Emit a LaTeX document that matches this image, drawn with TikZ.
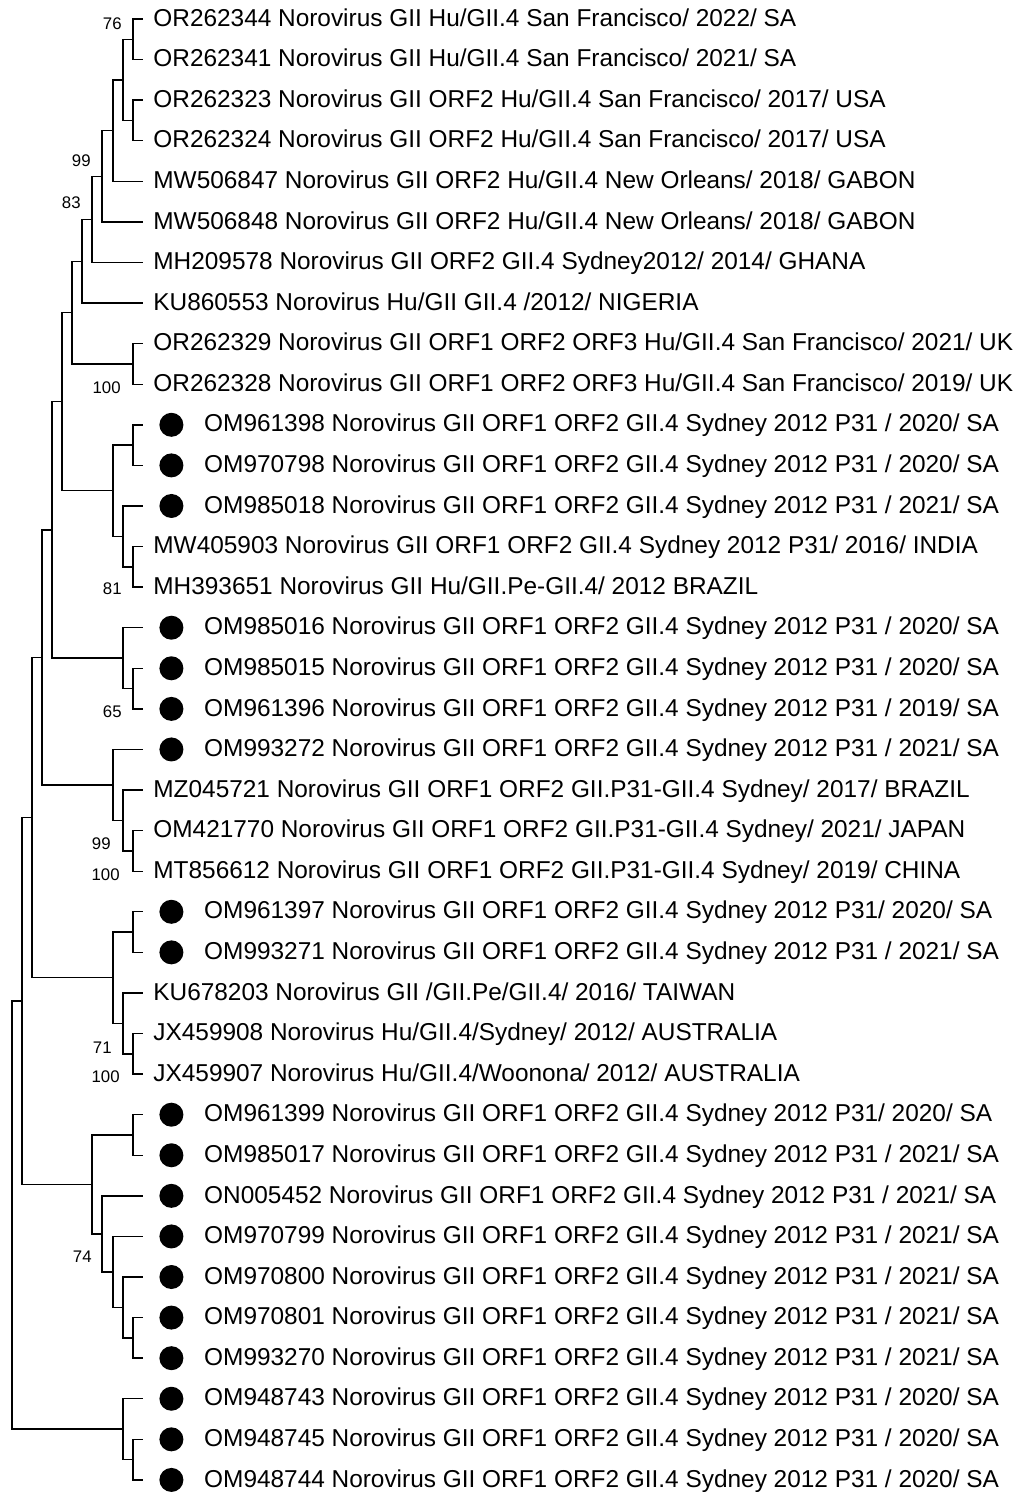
\documentclass[tikz,border=0pt]{standalone}
\usepackage{fontspec}
\setmainfont{Liberation Sans}
\usepackage{tikz}
\usetikzlibrary{positioning}

\begin{document}
\begin{tikzpicture}[x=0.5pt,y=-20.29pt,
  lab/.style={anchor=west,inner sep=0pt,text height=0.716em,text depth=0pt,font=\fontsize{12.2}{14}\selectfont},
  boot/.style={anchor=east,inner sep=0pt,text height=0.716em,text depth=0pt,font=\fontsize{8.4}{10}\selectfont},
  dot/.style={circle,fill=black,minimum size=12pt,inner sep=0pt},
  br/.style={line width=0.7pt}]
\useasboundingbox (0,0.5318) rectangle (1022,37.298);
% leaf tips
\coordinate (l1) at (143,1);   \coordinate (l2) at (143,2);   \coordinate (l3) at (143,3);
\coordinate (l4) at (143,4);   \coordinate (l5) at (143,5);   \coordinate (l6) at (143,6);
\coordinate (l7) at (143,7);   \coordinate (l8) at (143,8);   \coordinate (l9) at (143,9);
\coordinate (l10) at (143,10); \coordinate (l11) at (143,11); \coordinate (l12) at (143,12);
\coordinate (l13) at (143,13); \coordinate (l14) at (143,14); \coordinate (l15) at (143,15);
\coordinate (l16) at (143,16); \coordinate (l17) at (143,17); \coordinate (l18) at (143,18);
\coordinate (l19) at (143,19); \coordinate (l20) at (143,20); \coordinate (l21) at (143,21);
\coordinate (l22) at (143,22); \coordinate (l23) at (143,23); \coordinate (l24) at (143,24);
\coordinate (l25) at (143,25); \coordinate (l26) at (143,26); \coordinate (l27) at (143,27);
\coordinate (l28) at (143,28); \coordinate (l29) at (143,29); \coordinate (l30) at (143,30);
\coordinate (l31) at (143,31); \coordinate (l32) at (143,32); \coordinate (l33) at (143,33);
\coordinate (l34) at (143,34); \coordinate (l35) at (143,35); \coordinate (l36) at (143,36);
\coordinate (l37) at (143,37);
% internal nodes
\coordinate (sf) at (133,1.5);       \coordinate (usa) at (133,3.5);
\coordinate (sfusa) at (123,2.5);     \coordinate (nola) at (113,3.75);
\coordinate (gab) at (102,4.875);     \coordinate (gha) at (92,5.9375);
\coordinate (nig) at (82,6.96875);    \coordinate (uk) at (133,9.5);
\coordinate (ukall) at (72,8.234);    \coordinate (saA) at (133,11.5);
\coordinate (bra) at (133,14.5);      \coordinate (ind) at (123,13.75);
\coordinate (grpA) at (113,12.625);   \coordinate (topcl) at (62,10.43);
\coordinate (saB) at (133,17.5);      \coordinate (grpB) at (123,16.75);
\coordinate (upper) at (52,13.59);    \coordinate (chn) at (133,21.5);
\coordinate (p31) at (123,20.75);     \coordinate (grpC) at (113,19.875);
\coordinate (mid) at (42,16.73);      \coordinate (saD) at (133,23.5);
\coordinate (aus) at (133,26.5);      \coordinate (twn) at (123,25.75);
\coordinate (grpD) at (113,24.625);   \coordinate (main) at (32,20.68);
\coordinate (saE) at (133,28.5);      \coordinate (saF) at (133,33.5);
\coordinate (saG) at (123,32.75);     \coordinate (saH) at (113,31.875);
\coordinate (saI) at (102,30.9375);   \coordinate (grpE) at (92,29.72);
\coordinate (big) at (22,25.2);       \coordinate (saJ) at (133,36.5);
\coordinate (grpF) at (123,35.75);    \coordinate (root) at (12,30.475);
% branches
\draw[br] (sf) |- (l1) (sf) |- (l2);
\draw[br] (usa) |- (l3) (usa) |- (l4);
\draw[br] (sfusa) |- (sf) (sfusa) |- (usa);
\draw[br] (nola) |- (sfusa) (nola) |- (l5);
\draw[br] (gab) |- (nola) (gab) |- (l6);
\draw[br] (gha) |- (gab) (gha) |- (l7);
\draw[br] (nig) |- (gha) (nig) |- (l8);
\draw[br] (uk) |- (l9) (uk) |- (l10);
\draw[br] (ukall) |- (nig) (ukall) |- (uk);
\draw[br] (saA) |- (l11) (saA) |- (l12);
\draw[br] (bra) |- (l14) (bra) |- (l15);
\draw[br] (ind) |- (l13) (ind) |- (bra);
\draw[br] (grpA) |- (saA) (grpA) |- (ind);
\draw[br] (topcl) |- (ukall) (topcl) |- (grpA);
\draw[br] (saB) |- (l17) (saB) |- (l18);
\draw[br] (grpB) |- (l16) (grpB) |- (saB);
\draw[br] (upper) |- (topcl) (upper) |- (grpB);
\draw[br] (chn) |- (l21) (chn) |- (l22);
\draw[br] (p31) |- (l20) (p31) |- (chn);
\draw[br] (grpC) |- (l19) (grpC) |- (p31);
\draw[br] (mid) |- (upper) (mid) |- (grpC);
\draw[br] (saD) |- (l23) (saD) |- (l24);
\draw[br] (aus) |- (l26) (aus) |- (l27);
\draw[br] (twn) |- (l25) (twn) |- (aus);
\draw[br] (grpD) |- (saD) (grpD) |- (twn);
\draw[br] (main) |- (mid) (main) |- (grpD);
\draw[br] (saE) |- (l28) (saE) |- (l29);
\draw[br] (saF) |- (l33) (saF) |- (l34);
\draw[br] (saG) |- (l32) (saG) |- (saF);
\draw[br] (saH) |- (l31) (saH) |- (saG);
\draw[br] (saI) |- (l30) (saI) |- (saH);
\draw[br] (grpE) |- (saE) (grpE) |- (saI);
\draw[br] (big) |- (main) (big) |- (grpE);
\draw[br] (saJ) |- (l36) (saJ) |- (l37);
\draw[br] (grpF) |- (l35) (grpF) |- (saJ);
\draw[br] (root) |- (big) (root) |- (grpF);
% bootstrap values
\node[boot] (b76) at (122,1.086) {76};
\node[boot] (b99a) at (91,4.45) {99};
\node[boot] (b83) at (81,5.485) {83};
\node[boot] (b100a) at (121,10.044) {100};
\node[boot] (b81) at (122,14.997) {81};
\node[boot] (b65) at (122,18.03) {65};
\node[boot] (b99b) at (111,21.28) {99};
\node[boot] (b100b) at (120,22.045) {100};
\node[boot] (b71) at (112,26.31) {71};
\node[boot] (b100c) at (120,27.02) {100};
\node[boot] (b74) at (92,31.46) {74};
% markers for the study sequences
\node[dot,right=8pt of l11] (d11) {}; \node[dot,right=8pt of l12] (d12) {};
\node[dot,right=8pt of l13] (d13) {}; \node[dot,right=8pt of l16] (d16) {};
\node[dot,right=8pt of l17] (d17) {}; \node[dot,right=8pt of l18] (d18) {};
\node[dot,right=8pt of l19] (d19) {}; \node[dot,right=8pt of l23] (d23) {};
\node[dot,right=8pt of l24] (d24) {}; \node[dot,right=8pt of l28] (d28) {};
\node[dot,right=8pt of l29] (d29) {}; \node[dot,right=8pt of l30] (d30) {};
\node[dot,right=8pt of l31] (d31) {}; \node[dot,right=8pt of l32] (d32) {};
\node[dot,right=8pt of l33] (d33) {}; \node[dot,right=8pt of l34] (d34) {};
\node[dot,right=8pt of l35] (d35) {}; \node[dot,right=8pt of l36] (d36) {};
\node[dot,right=8pt of l37] (d37) {};
% taxon labels
\node[lab,right=5pt of l1] (t1) {OR262344 Norovirus GII Hu/GII.4 San Francisco/ 2022/ SA};
\node[lab,right=5pt of l2] (t2) {OR262341 Norovirus GII Hu/GII.4 San Francisco/ 2021/ SA};
\node[lab,right=5pt of l3] (t3) {OR262323 Norovirus GII ORF2 Hu/GII.4 San Francisco/ 2017/ USA};
\node[lab,right=5pt of l4] (t4) {OR262324 Norovirus GII ORF2 Hu/GII.4 San Francisco/ 2017/ USA};
\node[lab,right=5pt of l5] (t5) {MW506847 Norovirus GII ORF2 Hu/GII.4 New Orleans/ 2018/ GABON};
\node[lab,right=5pt of l6] (t6) {MW506848 Norovirus GII ORF2 Hu/GII.4 New Orleans/ 2018/ GABON};
\node[lab,right=5pt of l7] (t7) {MH209578 Norovirus GII ORF2 GII.4 Sydney2012/ 2014/ GHANA};
\node[lab,right=5pt of l8] (t8) {KU860553 Norovirus Hu/GII GII.4 /2012/ NIGERIA};
\node[lab,right=5pt of l9] (t9) {OR262329 Norovirus GII ORF1 ORF2 ORF3 Hu/GII.4 San Francisco/ 2021/ UK};
\node[lab,right=5pt of l10] (t10) {OR262328 Norovirus GII ORF1 ORF2 ORF3 Hu/GII.4 San Francisco/ 2019/ UK};
\node[lab,right=10pt of d11] (t11) {OM961398 Norovirus GII ORF1 ORF2 GII.4 Sydney 2012 P31 / 2020/ SA};
\node[lab,right=10pt of d12] (t12) {OM970798 Norovirus GII ORF1 ORF2 GII.4 Sydney 2012 P31 / 2020/ SA};
\node[lab,right=10pt of d13] (t13) {OM985018 Norovirus GII ORF1 ORF2 GII.4 Sydney 2012 P31 / 2021/ SA};
\node[lab,right=5pt of l14] (t14) {MW405903 Norovirus GII ORF1 ORF2 GII.4 Sydney 2012 P31/ 2016/ INDIA};
\node[lab,right=5pt of l15] (t15) {MH393651 Norovirus GII Hu/GII.Pe-GII.4/ 2012 BRAZIL};
\node[lab,right=10pt of d16] (t16) {OM985016 Norovirus GII ORF1 ORF2 GII.4 Sydney 2012 P31 / 2020/ SA};
\node[lab,right=10pt of d17] (t17) {OM985015 Norovirus GII ORF1 ORF2 GII.4 Sydney 2012 P31 / 2020/ SA};
\node[lab,right=10pt of d18] (t18) {OM961396 Norovirus GII ORF1 ORF2 GII.4 Sydney 2012 P31 / 2019/ SA};
\node[lab,right=10pt of d19] (t19) {OM993272 Norovirus GII ORF1 ORF2 GII.4 Sydney 2012 P31 / 2021/ SA};
\node[lab,right=5pt of l20] (t20) {MZ045721 Norovirus GII ORF1 ORF2 GII.P31-GII.4 Sydney/ 2017/ BRAZIL};
\node[lab,right=5pt of l21] (t21) {OM421770 Norovirus GII ORF1 ORF2 GII.P31-GII.4 Sydney/ 2021/ JAPAN};
\node[lab,right=5pt of l22] (t22) {MT856612 Norovirus GII ORF1 ORF2 GII.P31-GII.4 Sydney/ 2019/ CHINA};
\node[lab,right=10pt of d23] (t23) {OM961397 Norovirus GII ORF1 ORF2 GII.4 Sydney 2012 P31/ 2020/ SA};
\node[lab,right=10pt of d24] (t24) {OM993271 Norovirus GII ORF1 ORF2 GII.4 Sydney 2012 P31 / 2021/ SA};
\node[lab,right=5pt of l25] (t25) {KU678203 Norovirus GII /GII.Pe/GII.4/ 2016/ TAIWAN};
\node[lab,right=5pt of l26] (t26) {JX459908 Norovirus Hu/GII.4/Sydney/ 2012/ AUSTRALIA};
\node[lab,right=5pt of l27] (t27) {JX459907 Norovirus Hu/GII.4/Woonona/ 2012/ AUSTRALIA};
\node[lab,right=10pt of d28] (t28) {OM961399 Norovirus GII ORF1 ORF2 GII.4 Sydney 2012 P31/ 2020/ SA};
\node[lab,right=10pt of d29] (t29) {OM985017 Norovirus GII ORF1 ORF2 GII.4 Sydney 2012 P31 / 2021/ SA};
\node[lab,right=10pt of d30] (t30) {ON005452 Norovirus GII ORF1 ORF2 GII.4 Sydney 2012 P31 / 2021/ SA};
\node[lab,right=10pt of d31] (t31) {OM970799 Norovirus GII ORF1 ORF2 GII.4 Sydney 2012 P31 / 2021/ SA};
\node[lab,right=10pt of d32] (t32) {OM970800 Norovirus GII ORF1 ORF2 GII.4 Sydney 2012 P31 / 2021/ SA};
\node[lab,right=10pt of d33] (t33) {OM970801 Norovirus GII ORF1 ORF2 GII.4 Sydney 2012 P31 / 2021/ SA};
\node[lab,right=10pt of d34] (t34) {OM993270 Norovirus GII ORF1 ORF2 GII.4 Sydney 2012 P31 / 2021/ SA};
\node[lab,right=10pt of d35] (t35) {OM948743 Norovirus GII ORF1 ORF2 GII.4 Sydney 2012 P31 / 2020/ SA};
\node[lab,right=10pt of d36] (t36) {OM948745 Norovirus GII ORF1 ORF2 GII.4 Sydney 2012 P31 / 2020/ SA};
\node[lab,right=10pt of d37] (t37) {OM948744 Norovirus GII ORF1 ORF2 GII.4 Sydney 2012 P31 / 2020/ SA};
\end{tikzpicture}
\end{document}
